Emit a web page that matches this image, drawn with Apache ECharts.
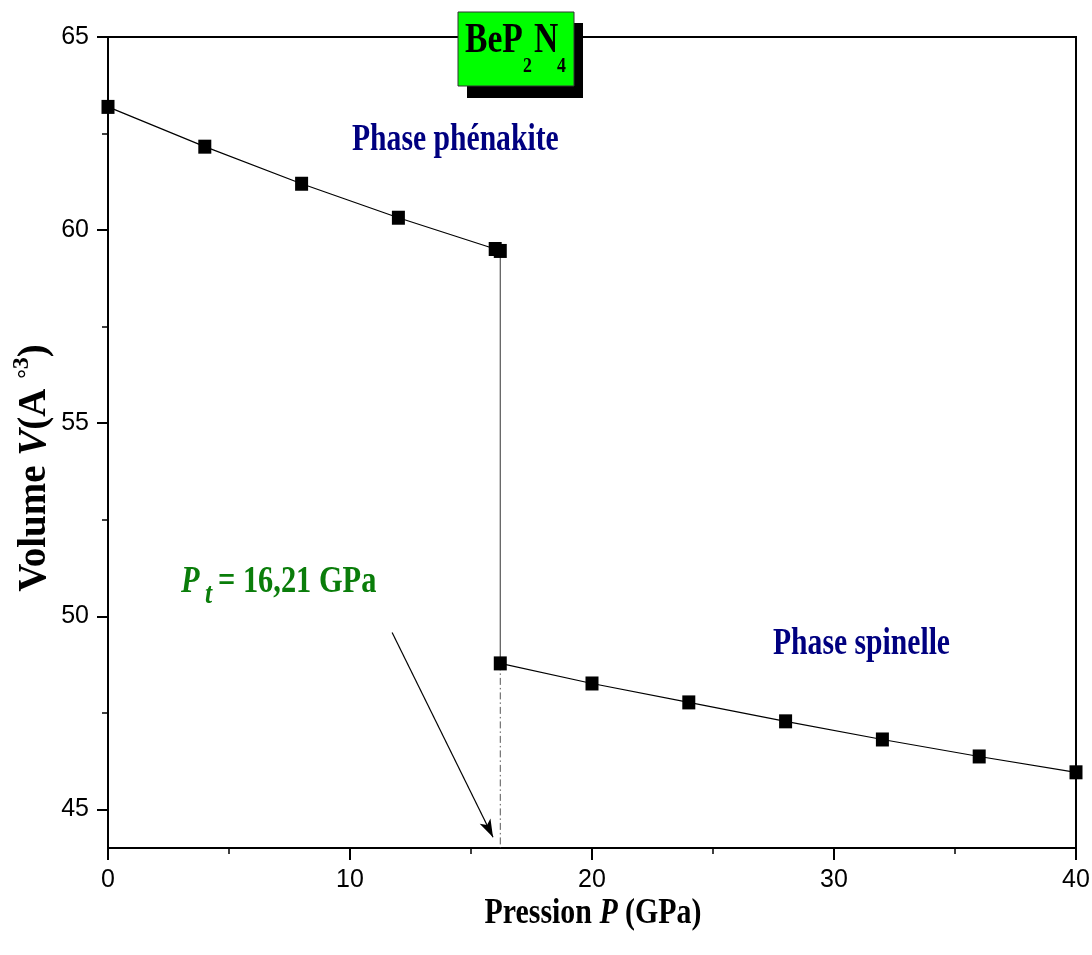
<!DOCTYPE html>
<html>
<head>
<meta charset="utf-8">
<script src="https://cdn.jsdelivr.net/npm/echarts@6/dist/echarts.min.js"></script>
<style>
  html, body { margin: 0; padding: 0; background: #fff; }
  #chart { width: 1092px; height: 955px; }
</style>
</head>
<body>
<div id="chart"></div>
<script>
// Pressure (GPa) and unit-cell volume (Å³) for BeP2N4
const phenakiteP = [0, 4, 8, 12, 16, 16.21];
const phenakiteV = [63.19, 62.16, 61.20, 60.32, 59.51, 59.46];
const spinelP = [16.21, 20, 24, 28, 32, 36, 40];
const spinelV = [48.78, 48.26, 47.77, 47.28, 46.81, 46.37, 45.96];
const transitionP = 16.21;
const xTicks = [0, 10, 20, 30, 40];
const yTicks = [45, 50, 55, 60, 65];
const yMinorTicks = [47.5, 52.5, 57.5, 62.5];
const yRange = [44, 65];

const serif = 'Liberation Serif';
const sans = 'Liberation Sans';

const pair = (xs, ys) => xs.map((x, i) => [x, ys[i]]);
const lastPhen = phenakiteV[phenakiteV.length - 1];
const firstSpin = spinelV[0];

const chart = echarts.init(document.getElementById('chart'), null, { renderer: 'canvas' });

const navy = '#000080';
const green = '#0a7d0a';
const condensed = 0.78;

function label(text, x, y, size, color, opts) {
  return Object.assign({
    type: 'text', x: x, y: y, z: 12, scaleX: condensed,
    style: {
      text: text,
      font: (opts && opts.italic ? 'italic ' : '') + 'bold ' + size + 'px "Liberation Serif"',
      fill: color, textVerticalAlign: 'middle'
    }
  }, opts && opts.extra);
}

chart.setOption({
  animation: false,
  backgroundColor: '#fff',
  grid: {
    left: 108, right: 16, top: 37, bottom: 107,
    outerBoundsMode: 'none', containLabel: false,
    show: true, borderColor: '#000', borderWidth: 2
  },
  xAxis: {
    type: 'value', min: xTicks[0], max: xTicks[xTicks.length - 1], interval: 10,
    axisLine: { onZero: false, lineStyle: { color: '#000', width: 2 } },
    axisTick: { inside: false, length: 12, lineStyle: { color: '#000', width: 2 } },
    minorTick: { show: true, splitNumber: 2, length: 6, lineStyle: { color: '#000', width: 1.5 } },
    axisLabel: { margin: 20, fontFamily: sans, fontSize: 25, color: '#000' },
    splitLine: { show: false }
  },
  yAxis: [
    {
      type: 'value', min: yRange[0], max: yRange[1],
      axisLine: { onZero: false, lineStyle: { color: '#000', width: 2 } },
      axisTick: { inside: false, length: 11, customValues: yTicks, lineStyle: { color: '#000', width: 2 } },
      axisLabel: { margin: 19, fontFamily: sans, fontSize: 25, color: '#000', customValues: yTicks },
      splitLine: { show: false }
    },
    {
      type: 'value', min: yRange[0], max: yRange[1], position: 'left',
      axisLine: { show: false },
      axisTick: { inside: false, length: 6, customValues: yMinorTicks, lineStyle: { color: '#000', width: 1.5 } },
      axisLabel: { show: false },
      splitLine: { show: false }
    }
  ],
  series: [
    {
      name: 'transition',
      type: 'line',
      data: [[transitionP, lastPhen], [transitionP, firstSpin]],
      symbol: 'none',
      lineStyle: { color: '#555', width: 1.2 },
      z: 1
    },
    {
      name: 'drop',
      type: 'line',
      data: [[transitionP, firstSpin], [transitionP, yRange[0]]],
      symbol: 'none',
      lineStyle: { color: '#555', width: 1, type: [7, 3, 1.5, 3] },
      z: 1
    },
    {
      name: 'Phase phénakite',
      type: 'line',
      data: pair(phenakiteP, phenakiteV),
      symbol: 'rect', symbolSize: [13, 14],
      itemStyle: { color: '#000' },
      lineStyle: { color: '#000', width: 1.2 },
      z: 3
    },
    {
      name: 'Phase spinelle',
      type: 'line',
      data: pair(spinelP, spinelV),
      symbol: 'rect', symbolSize: [13, 14],
      itemStyle: { color: '#000' },
      lineStyle: { color: '#000', width: 1.2 },
      z: 3
    },
    {
      name: 'arrow',
      type: 'line',
      data: [],
      markLine: {
        silent: true,
        symbol: ['none', 'arrow'],
        symbolSize: [9, 18],
        label: { show: false },
        lineStyle: { color: '#000', width: 1.2, type: 'solid' },
        data: [[{ coord: [11.74, 49.58] }, { coord: [15.91, 44.28] }]]
      }
    }
  ],
  graphic: [
    // title box with offset shadow
    { type: 'rect', shape: { x: 467, y: 23, width: 116, height: 75 }, style: { fill: '#000' }, z: 10 },
    { type: 'rect', shape: { x: 458, y: 12, width: 116, height: 74 }, style: { fill: '#00ff00', stroke: '#333', lineWidth: 1 }, z: 11 },
    label('BeP', 465, 41, 42, '#000', { extra: { scaleX: 0.8 } }),
    label('2', 523, 67, 21, '#000', { extra: { scaleX: 0.85 } }),
    label('N', 534, 41, 42, '#000', { extra: { scaleX: 0.8 } }),
    label('4', 557, 67, 21, '#000', { extra: { scaleX: 0.85 } }),
    // phase labels
    label('Phase phénakite', 352, 140, 38, navy),
    label('Phase spinelle', 773, 644, 38, navy),
    // transition pressure label
    label('P', 181, 582, 38, green, { italic: true, extra: { scaleX: 0.8 } }),
    label('t', 205, 595, 30, green, { italic: true, extra: { scaleX: 0.85 } }),
    label('= 16,21 GPa', 218, 582, 38, green, { extra: { scaleX: 0.8 } }),
    // x axis title
    {
      type: 'text', x: 593, y: 914, z: 12, scaleX: 0.83,
      style: {
        text: '{b|Pression }{i|P}{b| (GPa)}',
        textAlign: 'center', textVerticalAlign: 'middle',
        rich: {
          b: { fontFamily: serif, fontWeight: 'bold', fontSize: 36, fill: '#000' },
          i: { fontFamily: serif, fontWeight: 'bold', fontStyle: 'italic', fontSize: 36, fill: '#000' }
        }
      }
    },
    // y axis title, reading bottom to top
    {
      type: 'text', x: 32, y: 468, z: 12, rotation: Math.PI / 2,
      style: {
        text: '{b|Volume }{i|V}{b|(A }{sup|°}{sup2|3}{b|)}',
        textAlign: 'center', textVerticalAlign: 'middle',
        rich: {
          b: { fontFamily: serif, fontWeight: 'bold', fontSize: 39, fill: '#000', lineHeight: 44, verticalAlign: 'bottom' },
          i: { fontFamily: serif, fontWeight: 'bold', fontStyle: 'italic', fontSize: 39, fill: '#000', lineHeight: 44, verticalAlign: 'bottom' },
          sup: { fontFamily: serif, fontWeight: 'bold', fontSize: 24, fill: '#000', verticalAlign: 'top', padding: [6, 0, 0, 0] },
          sup2: { fontFamily: serif, fontWeight: 'bold', fontSize: 24, fill: '#000', verticalAlign: 'top' }
        }
      }
    }
  ]
});
</script>
</body>
</html>
